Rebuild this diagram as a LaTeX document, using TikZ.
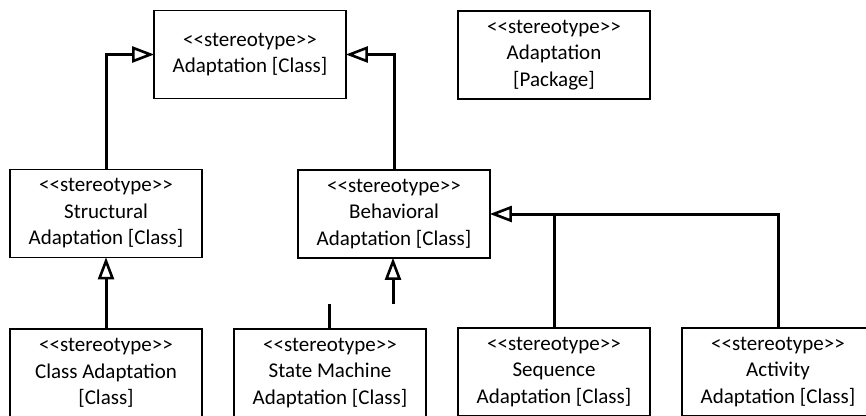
\documentclass[tikz,border=0pt]{standalone}
\usepackage{fontspec}
\setmainfont{Carlito}

\begin{document}
\begin{tikzpicture}[x=1pt, y=-1pt,
  classbox/.style={draw=black, line width=1.2pt, fill=white,
    minimum width=192pt, minimum height=88pt, inner sep=0pt,
    align=center, font=\fontsize{21}{26.5}\selectfont},
  boldbox/.style={classbox, line width=2.2pt},
  conn/.style={draw=black, line width=3pt},
  gen/.style={conn, shorten >=20pt},
  genhead/.pic={
    \draw[line width=2.6pt, fill=white, line join=miter]
      (-3,0) -- (-20,6.5) -- (-20,-6.5) -- cycle;}
]
\clip (0,0) rectangle (866,415);

% stereotype boxes
\node[classbox] (adapt)  at (250,54.5) {<{}<stereotype>{}>\\Adaptation [Class]};
\node[classbox] (pkg)    at (554,55)   {<{}<stereotype>{}>\\Adaptation\\{}[Package]};
\node[classbox] (struct) at (106,213.5) {<{}<stereotype>{}>\\Structural\\Adaptation [Class]};
\node[classbox] (behav)  at (394,214)  {<{}<stereotype>{}>\\Behavioral\\Adaptation [Class]};
\node[classbox] (classad) at (106,373) {<{}<stereotype>{}>\\Class Adaptation\\{}[Class]};
\node[boldbox]  (statem) at (330,373)  {<{}<stereotype>{}>\\State Machine\\Adaptation [Class]};
\node[boldbox]  (seq)    at (554,372)  {<{}<stereotype>{}>\\Sequence\\Adaptation [Class]};
\node[boldbox]  (act)    at (778,372)  {<{}<stereotype>{}>\\Activity\\Adaptation [Class]};

% loose ends of the state machine generalization
\coordinate (smend) at (329,304);
\coordinate (smstart) at (393,304);
\coordinate (smtip) at (smstart |- behav.south);

% generalizations (lines, then hollow triangle heads)
\draw[gen] (struct.north) |- (adapt.west);
\draw[gen] (behav.north) |- (adapt.east);
\draw[gen] (classad.north) -- (struct.south);
\draw[conn] (statem.north -| smend) -- (smend);
\draw[gen] (smstart) -- (smtip);
\draw[gen] (act.north) |- (behav.east);
\draw[conn] (seq.north) -- (seq.north |- behav.east);

\pic[rotate=0]   at (adapt.west)   {genhead};
\pic[rotate=180] at (adapt.east)   {genhead};
\pic[rotate=90]  at (struct.south) {genhead};
\pic[rotate=90]  at (smtip)        {genhead};
\pic[rotate=180] at (behav.east)   {genhead};
\end{tikzpicture}
\end{document}
